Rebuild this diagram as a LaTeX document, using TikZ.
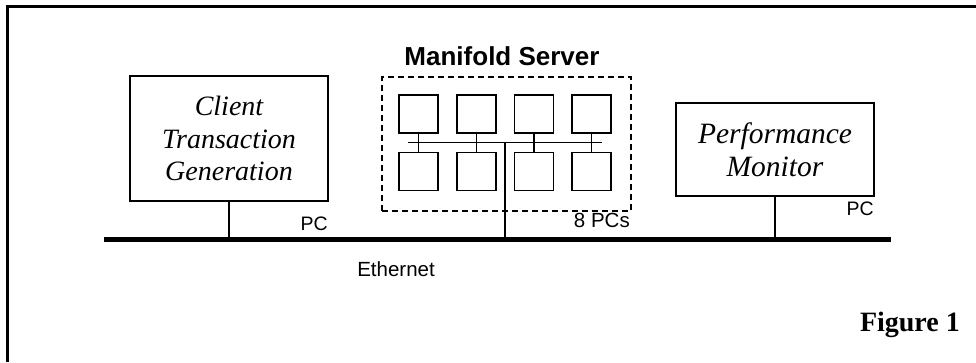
\documentclass[tikz,border=0pt]{standalone}
\usepackage{fontspec}
\setmainfont{Liberation Serif}
\setsansfont{Liberation Sans}
\begin{document}
\begin{tikzpicture}[x=1pt,y=-1pt,
  box/.style={draw,line width=1.4pt,inner sep=0pt},
  pcbox/.style={draw,line width=1.2pt,minimum width=39pt,minimum height=38pt,inner sep=0pt},
  wire/.style={line width=1.2pt},
  lbl/.style={font=\sffamily\fontsize{19.5}{22}\selectfont,inner sep=0pt},
  ital/.style={font=\itshape\fontsize{28}{32.5}\selectfont,align=center,inner sep=0pt}]
\useasboundingbox (0,0) rectangle (976,362);
% frame
\draw[line width=2.5pt] (7.5,362) -- (7.5,6.5) -- (976,6.5);
% ethernet
\coordinate (e1) at (104,239);
\coordinate (e2) at (891,239);
\draw[line width=5pt] (e1) -- (e2);
% client
\node[box,minimum width=198pt,minimum height=125pt] (client) at (229,138.5) {};
\node[ital] (clienttxt) at (client.center) {Client\\Transaction\\Generation};
\coordinate (ce) at (client.south |- e1);
\draw[wire] (client.south) -- (ce);
\node[lbl,anchor=east] (pc1) at (328,224) {PC};
% performance
\node[box,minimum width=198pt,minimum height=93pt] (perf) at (775,149.5) {};
\node[ital,font=\itshape\fontsize{29.5}{33}\selectfont] (perftxt) at (perf.center) {Performance\\Monitor};
\coordinate (pe) at (perf.south |- e1);
\draw[wire] (perf.south) -- (pe);
\node[lbl,anchor=east] (pc2) at (874,209) {PC};
% manifold
\node[draw,dashed,line width=1.2pt,dash pattern=on 6pt off 4pt,minimum width=249pt,minimum height=134pt] (mf) at (506.5,144) {};
\node[font=\sffamily\bfseries\fontsize{26}{30}\selectfont,inner sep=0pt] (mtitle) at (502,56) {Manifold Server};
\foreach \i/\x in {1/418.5,2/476.5,3/534,4/591.5}{
  \node[pcbox] (t\i) at (\x,114) {};
  \node[pcbox] (b\i) at (\x,171.5) {};
}
\coordinate (busl) at (408,142.5);
\coordinate (busr) at (602,142.5);
\draw[wire] (busl) -- (busr);
\foreach \i in {1,2,3,4}{
  \draw[wire] (t\i.south) -- (b\i.north);
}
\coordinate (busm) at (505,142.5);
\coordinate (me) at (busm |- e1);
\draw[wire] (busm) -- (me);
\node[lbl,anchor=east,font=\sffamily\fontsize{20.5}{22}\selectfont] (pcs) at (630,220) {8\ PCs};
\node[lbl,font=\sffamily\fontsize{20.5}{22}\selectfont] (eth) at (396,269) {Ethernet};
\node[font=\bfseries\fontsize{28}{30}\selectfont,inner sep=0pt,anchor=east] (fig) at (960,325) {Figure 1};
\end{tikzpicture}
\end{document}
